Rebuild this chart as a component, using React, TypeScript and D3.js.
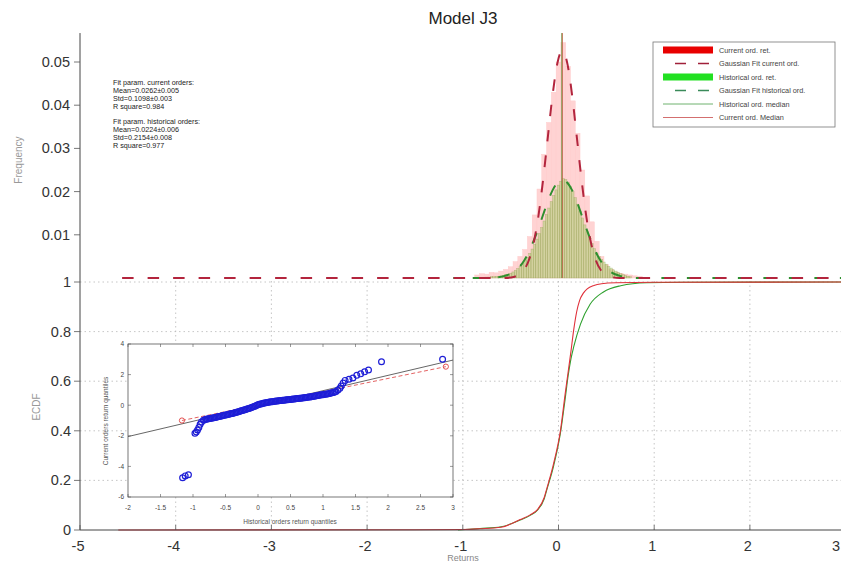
import React from 'react';
import * as d3 from 'd3';

const W = 841;
const H = 564;
const FONT = 'Liberation Sans, Arial, Helvetica, sans-serif';

// ---- axis ticks ----
const xTicks = [-5, -4, -3, -2, -1, 0, 1, 2, 3];
const freqTicks = [0.01, 0.02, 0.03, 0.04, 0.05];
const ecdfTicks = [0, 0.2, 0.4, 0.6, 0.8, 1];
const ecdfTickLabels = ['0', '0.2', '0.4', '0.6', '0.8', '1'];
const insetXTicks = [-2, -1.5, -1, -0.5, 0, 0.5, 1, 1.5, 2, 2.5, 3];
const insetYTicks = [-6, -4, -2, 0, 2, 4];

// ---- histogram: current orders (bin width 0.05) ----
const curBinCenters = [-0.85, -0.8, -0.75, -0.7, -0.65, -0.6, -0.55, -0.5, -0.45, -0.4, -0.35, -0.3, -0.25, -0.2, -0.15, -0.1, -0.05, 0, 0.05, 0.1, 0.15, 0.2, 0.25, 0.3, 0.35, 0.4, 0.45, 0.5, 0.55, 0.6, 0.65, 0.7, 0.75, 0.8, 0.85];
const curBinFreq = [0.0007, 0.001, 0.0009, 0.0013, 0.0012, 0.0016, 0.002, 0.0026, 0.0038, 0.005, 0.0066, 0.0096, 0.0146, 0.0206, 0.0286, 0.036, 0.043, 0.05, 0.0545, 0.049, 0.041, 0.0335, 0.025, 0.019, 0.013, 0.0085, 0.005, 0.0031, 0.002, 0.0014, 0.0011, 0.0009, 0.0007, 0.0005, 0.0004];
const curBinWidth = 0.05;

// ---- histogram: historical orders (bin width 0.025) ----
const histBinCenters = [-0.75, -0.725, -0.7, -0.675, -0.65, -0.625, -0.6, -0.575, -0.55, -0.525, -0.5, -0.475, -0.45, -0.425, -0.4, -0.375, -0.35, -0.325, -0.3, -0.275, -0.25, -0.225, -0.2, -0.175, -0.15, -0.125, -0.1, -0.075, -0.05, -0.025, 0, 0.025, 0.05, 0.075, 0.1, 0.125, 0.15, 0.175, 0.2, 0.225, 0.25, 0.275, 0.3, 0.325, 0.35, 0.375, 0.4, 0.425, 0.45, 0.475, 0.5, 0.525, 0.55, 0.575, 0.6, 0.625, 0.65, 0.675, 0.7, 0.725, 0.75];
const histBinFreq = [0.0002, 0.0002, 0.0003, 0.0003, 0.0004, 0.0004, 0.0005, 0.0006, 0.0008, 0.0009, 0.0011, 0.0014, 0.0018, 0.0022, 0.0027, 0.0033, 0.004, 0.0048, 0.0057, 0.0067, 0.0078, 0.009, 0.0103, 0.0117, 0.0132, 0.0147, 0.0162, 0.0177, 0.0191, 0.0204, 0.0215, 0.0224, 0.023, 0.0228, 0.0222, 0.0212, 0.02, 0.0186, 0.0171, 0.0155, 0.0139, 0.0123, 0.0107, 0.0093, 0.008, 0.0068, 0.0058, 0.005, 0.0043, 0.0037, 0.0032, 0.0027, 0.0023, 0.0019, 0.0016, 0.0013, 0.001, 0.0008, 0.0006, 0.0004, 0.0003];
const histBinWidth = 0.025;

// ---- gaussian fit curves ----
const gaussCurX = [-4.56, -0.56, -0.46, -0.41, -0.36, -0.31, -0.26, -0.21, -0.16, -0.11, -0.06, -0.01, 0.04, 0.09, 0.14, 0.19, 0.24, 0.29, 0.34, 0.39, 0.44, 0.49, 0.54, 0.64, 3.6];
const gaussCurY = [0, 0, 0.0003, 0.0008, 0.0019, 0.0041, 0.0081, 0.0143, 0.0229, 0.0329, 0.0427, 0.0499, 0.0526, 0.0499, 0.0427, 0.0329, 0.0229, 0.0143, 0.0081, 0.0041, 0.0019, 0.0008, 0.0003, 0, 0];
const gaussHisX = [-1.1, -0.76, -0.66, -0.56, -0.46, -0.36, -0.31, -0.26, -0.21, -0.16, -0.11, -0.06, -0.01, 0.04, 0.09, 0.14, 0.19, 0.24, 0.29, 0.34, 0.39, 0.44, 0.54, 0.64, 0.74, 0.84, 3.6];
const gaussHisY = [0, 0, 0.0001, 0.0005, 0.0015, 0.004, 0.006, 0.0086, 0.0115, 0.0147, 0.0178, 0.0204, 0.0221, 0.0227, 0.0221, 0.0204, 0.0178, 0.0147, 0.0115, 0.0086, 0.006, 0.004, 0.0015, 0.0005, 0.0001, 0, 0];

// ---- medians ----
const histMedian = 0.035;
const curMedian = 0.04;

// ---- ECDF ----
const ecdfCurX = [-4.6, -1.5, -1.0, -0.82, -0.6, -0.4, -0.3, -0.22, -0.15, -0.12, -0.05, 0.02, 0.07, 0.13, 0.16, 0.19, 0.22, 0.26, 0.3, 0.37, 0.45, 0.6, 1.0, 3.6];
const ecdfCurY = [0, 0.001, 0.002, 0.005, 0.011, 0.042, 0.06, 0.082, 0.13, 0.17, 0.27, 0.4, 0.55, 0.72, 0.81, 0.88, 0.925, 0.955, 0.972, 0.986, 0.993, 0.997, 0.999, 1];
const ecdfHisX = [-1.05, -0.82, -0.6, -0.4, -0.3, -0.22, -0.15, -0.12, -0.05, 0.02, 0.07, 0.1, 0.13, 0.16, 0.23, 0.33, 0.47, 0.65, 0.92, 1.3, 3.6];
const ecdfHisY = [0, 0.006, 0.013, 0.04, 0.058, 0.08, 0.125, 0.165, 0.26, 0.39, 0.53, 0.62, 0.69, 0.74, 0.83, 0.91, 0.96, 0.985, 0.997, 0.999, 1];

// ---- QQ plot (inset): historical quantiles vs current quantiles ----
const qqHistQ = [
  -1.16, -1.12, -1.07, -0.97, -0.95, -0.93, -0.91, -0.89, -0.87, -0.84,
  -0.82, -0.8, -0.78, -0.76, -0.74, -0.72, -0.7, -0.68, -0.66, -0.64, -0.62, -0.6, -0.58, -0.56, -0.54, -0.52, -0.5, -0.48, -0.46, -0.44, -0.42, -0.4,
  -0.38, -0.36, -0.34, -0.32, -0.3, -0.28, -0.26, -0.24, -0.22, -0.2, -0.18, -0.16, -0.14, -0.12, -0.1, -0.08, -0.06, -0.04, -0.02, 0,
  0.02, 0.04, 0.06, 0.08, 0.1, 0.12, 0.14, 0.16, 0.18, 0.2, 0.22, 0.24, 0.26, 0.28, 0.3, 0.32, 0.34, 0.36, 0.38, 0.4,
  0.42, 0.44, 0.46, 0.48, 0.5, 0.52, 0.54, 0.56, 0.58, 0.6, 0.62, 0.64, 0.66, 0.68, 0.7, 0.72, 0.74, 0.76, 0.78, 0.8,
  0.82, 0.84, 0.86, 0.88, 0.9, 0.92, 0.94, 0.96, 0.98, 1.0, 1.02, 1.04, 1.06, 1.08, 1.1, 1.12, 1.14, 1.16, 1.18,
  1.2, 1.23, 1.26, 1.28, 1.31, 1.34, 1.4, 1.46, 1.52, 1.58, 1.64, 1.7, 1.9, 2.84,
];
const qqCurQ = [
  -4.74, -4.62, -4.55, -1.84, -1.75, -1.62, -1.45, -1.25, -1.1, -0.98,
  -0.95, -0.92, -0.9, -0.88, -0.87, -0.85, -0.83, -0.82, -0.8, -0.78, -0.76, -0.74, -0.72, -0.7, -0.68, -0.66, -0.64, -0.62, -0.6, -0.58, -0.56, -0.54,
  -0.52, -0.5, -0.47, -0.45, -0.42, -0.4, -0.37, -0.35, -0.32, -0.3, -0.27, -0.24, -0.21, -0.18, -0.15, -0.12, -0.08, -0.05, -0.01, 0.03,
  0.06, 0.08, 0.1, 0.12, 0.14, 0.16, 0.18, 0.19, 0.21, 0.22, 0.23, 0.24, 0.26, 0.27, 0.28, 0.29, 0.3, 0.31, 0.32, 0.33,
  0.34, 0.35, 0.36, 0.37, 0.38, 0.39, 0.4, 0.41, 0.42, 0.43, 0.44, 0.45, 0.46, 0.47, 0.48, 0.49, 0.51, 0.52, 0.53, 0.54,
  0.56, 0.57, 0.59, 0.6, 0.62, 0.63, 0.65, 0.66, 0.68, 0.69, 0.71, 0.72, 0.74, 0.75, 0.77, 0.79, 0.81, 0.83, 0.86,
  0.9, 1.0, 1.1, 1.25, 1.45, 1.62, 1.7, 1.78, 1.95, 2.05, 2.18, 2.3, 2.84, 3.0,
];
const qqRedX = [-1.17, 2.89];
const qqRedY = [-1.0, 2.52];
const qqRefX = [-2, 3];
const qqRefY = [-2.05, 2.95];

// ---- text ----
const fitText = [
  'Fit param. current orders:',
  'Mean=0.0262±0.005',
  'Std=0.1098±0.003',
  'R square=0.984',
  '',
  'Fit param. historical orders:',
  'Mean=0.0224±0.006',
  'Std=0.2154±0.008',
  'R square=0.977',
];
const legendLabels = [
  'Current ord. ret.',
  'Gaussian Fit current ord.',
  'Historical ord. ret.',
  'Gaussian Fit historical ord.',
  'Historical ord. median',
  'Current ord. Median',
];

export default function App() {
  const x = d3.scaleLinear().domain([-5, 3]).range([80, 845.6]);
  const yTop = d3.scaleLinear().domain([0, 0.05]).range([278, 62]);
  const yBot = d3.scaleLinear().domain([0, 1]).range([530, 282]);
  const ix = d3.scaleLinear().domain([-2, 3]).range([128, 453]);
  const iy = d3.scaleLinear().domain([-6, 4]).range([497, 344]);

  const topAxisTop = yTop(0.0567);
  const botAxisTop = yBot(1.016);

  const lineFrom = (xs: number[], ys: number[], ys2: (v: number) => number) =>
    d3
      .line<number>()
      .x((d) => x(d))
      .y((d, i) => ys2(ys[i]))
      .curve(d3.curveMonotoneX)(xs) || '';

  const gaussCurPath = lineFrom(gaussCurX, gaussCurY, yTop);
  const gaussHisPath = lineFrom(gaussHisX, gaussHisY, yTop);
  const ecdfCurPath = lineFrom(ecdfCurX, ecdfCurY, yBot);
  const ecdfHisPath = lineFrom(ecdfHisX, ecdfHisY, yBot);

  const legendX0 = 663;
  const legendX1 = 713;
  const legendY = [50, 63.5, 77, 90.5, 104, 117.5];

  const gridColor = '#b8b8b8';

  return (
    <div style={{ position: 'absolute', left: 0, top: 0 }}>
      <svg width={W} height={H} style={{ display: 'block', background: '#fff' }} fontFamily={FONT}>
        <defs>
          <clipPath id="plotClip">
            <rect x={80} y={0} width={W - 80} height={H} />
          </clipPath>
          <clipPath id="insetClip">
            <rect x={ix(-2)} y={iy(4)} width={ix(3) - ix(-2)} height={iy(-6) - iy(4)} />
          </clipPath>
        </defs>

        {/* title */}
        <text x={463} y={24} textAnchor="middle" fontSize={17} fill="#222">
          Model J3
        </text>

        {/* ===== bottom panel grid ===== */}
        <g stroke={gridColor} strokeWidth={0.8} strokeDasharray="1.5,3">
          {xTicks.filter((t) => t > -5).map((t) => (
            <line key={'gx' + t} x1={x(t)} x2={x(t)} y1={yBot(0)} y2={botAxisTop} />
          ))}
          {ecdfTicks.filter((t) => t > 0).map((t) => (
            <line key={'gy' + t} x1={x(-5)} x2={W} y1={yBot(t)} y2={yBot(t)} />
          ))}
        </g>

        {/* ===== top panel: histograms ===== */}
        <g clipPath="url(#plotClip)">
          {curBinCenters.map((c, i) => (
            <rect
              key={'cb' + i}
              x={x(c - curBinWidth / 2)}
              width={x(c + curBinWidth / 2) - x(c - curBinWidth / 2)}
              y={yTop(curBinFreq[i])}
              height={yTop(0) - yTop(curBinFreq[i])}
              fill="#ffd3d3"
              stroke="#ffc6c6"
              strokeWidth={0.4}
            />
          ))}
          {histBinCenters.map((c, i) => (
            <rect
              key={'hb' + i}
              x={x(c - histBinWidth / 2)}
              width={x(c + histBinWidth / 2) - x(c - histBinWidth / 2)}
              y={yTop(histBinFreq[i])}
              height={yTop(0) - yTop(histBinFreq[i])}
              fill="rgba(150,210,90,0.42)"
              stroke="rgba(140,150,70,0.5)"
              strokeWidth={0.5}
            />
          ))}

          {/* medians */}
          <line x1={x(histMedian)} x2={x(histMedian)} y1={yTop(0)} y2={topAxisTop} stroke="#5fa040" strokeWidth={1} />
          <line x1={x(curMedian)} x2={x(curMedian)} y1={yTop(0)} y2={topAxisTop} stroke="#c8604a" strokeWidth={1} opacity={0.9} />

          {/* gaussian fits */}
          <path d={gaussHisPath} fill="none" stroke="#2f8f2f" strokeWidth={2} strokeDasharray="11.5,14" strokeDashoffset={6} />
          <path d={gaussCurPath} fill="none" stroke="#b3253d" strokeWidth={2} strokeDasharray="11.5,14" />

          {/* ECDF */}
          <path d={ecdfHisPath} fill="none" stroke="#2ea02e" strokeWidth={1.1} />
          <path d={ecdfCurPath} fill="none" stroke="#e0303a" strokeWidth={1.1} />
        </g>

        {/* ===== axes ===== */}
        <line x1={x(-5)} x2={x(-5)} y1={topAxisTop} y2={yBot(0)} stroke="#444" strokeWidth={1} />
        <line x1={x(-5)} x2={W} y1={yBot(0)} y2={yBot(0)} stroke="#444" strokeWidth={1} />

        {/* top y ticks */}
        {freqTicks.map((t) => (
          <g key={'ft' + t}>
            <line x1={x(-5) - 6} x2={x(-5)} y1={yTop(t)} y2={yTop(t)} stroke="#555" strokeWidth={0.8} />
            <text x={70} y={yTop(t) + 5} textAnchor="end" fontSize={14.5} fill="#333">
              {t.toFixed(2)}
            </text>
          </g>
        ))}
        {/* bottom y ticks */}
        {ecdfTicks.map((t, i) => (
          <g key={'et' + t}>
            <line x1={x(-5) - 6} x2={x(-5)} y1={yBot(t)} y2={yBot(t)} stroke="#555" strokeWidth={0.8} />
            <text x={71} y={yBot(t) + 5} textAnchor="end" fontSize={14.5} fill="#333">
              {ecdfTickLabels[i]}
            </text>
          </g>
        ))}
        {/* x ticks */}
        {xTicks.map((t) => (
          <g key={'xt' + t}>
            <line x1={x(t)} x2={x(t)} y1={yBot(0)} y2={yBot(0) - 5} stroke="#555" strokeWidth={0.8} />
            <text
              x={t === 3 ? W - 1 : x(t) - 2}
              y={551}
              textAnchor={t === 3 ? 'end' : 'middle'}
              fontSize={14.5}
              fill="#333"
            >
              {t}
            </text>
          </g>
        ))}

        {/* axis labels */}
        <text transform={`translate(22,160) rotate(-90)`} textAnchor="middle" fontSize={10} fill="#999">
          Frequency
        </text>
        <text transform={`translate(40,407) rotate(-90)`} textAnchor="middle" fontSize={10} fill="#999">
          ECDF
        </text>
        <text x={463} y={561} textAnchor="middle" fontSize={9} fill="#888">
          Returns
        </text>

        {/* fit parameter text */}
        {fitText.map((s, i) => (
          <text key={'fp' + i} x={113} y={85 + i * 7.85} fontSize={7.2} fill="#222">
            {s}
          </text>
        ))}

        {/* legend */}
        <rect x={653} y={42} width={182} height={85} fill="#fff" stroke="#777" strokeWidth={0.8} />
        <line x1={legendX0} x2={legendX1} y1={legendY[0]} y2={legendY[0]} stroke="#e80000" strokeWidth={7} />
        <line x1={legendX0} x2={legendX1} y1={legendY[1]} y2={legendY[1]} stroke="#a0203a" strokeWidth={1.5} strokeDasharray="11,12" strokeDashoffset={-12} />
        <line x1={legendX0} x2={legendX1} y1={legendY[2]} y2={legendY[2]} stroke="#22e022" strokeWidth={7} />
        <line x1={legendX0} x2={legendX1} y1={legendY[3]} y2={legendY[3]} stroke="#3a8a5a" strokeWidth={1.5} strokeDasharray="11,12" strokeDashoffset={-12} />
        <line x1={legendX0} x2={legendX1} y1={legendY[4]} y2={legendY[4]} stroke="#4aa04a" strokeWidth={0.8} />
        <line x1={legendX0} x2={legendX1} y1={legendY[5]} y2={legendY[5]} stroke="#c84a4a" strokeWidth={0.8} />
        {legendLabels.map((s, i) => (
          <text key={'lg' + i} x={719} y={legendY[i] + 2.5} fontSize={7.3} fill="#444">
            {s}
          </text>
        ))}

        {/* ===== inset QQ plot ===== */}
        <rect x={ix(-2)} y={iy(4)} width={ix(3) - ix(-2)} height={iy(-6) - iy(4)} fill="#fff" stroke="#555" strokeWidth={0.8} />
        <g clipPath="url(#insetClip)">
          <path
            d={d3.line<number>().x((d) => ix(d)).y((d, i) => iy(qqRefY[i]))(qqRefX) || ''}
            stroke="#555"
            strokeWidth={0.9}
            fill="none"
          />
          <path
            d={d3.line<number>().x((d) => ix(d)).y((d, i) => iy(qqRedY[i]))(qqRedX) || ''}
            stroke="#e05050"
            strokeWidth={0.9}
            strokeDasharray="4,2.5"
            fill="none"
          />
          {qqHistQ.map((q, i) => (
            <circle key={'qq' + i} cx={ix(q)} cy={iy(qqCurQ[i])} r={2.9} fill="none" stroke="#1e1ed6" strokeWidth={1.2} />
          ))}
          {qqRedX.map((q, i) => (
            <circle key={'qr' + i} cx={ix(q)} cy={iy(qqRedY[i])} r={2.6} fill="none" stroke="#e04040" strokeWidth={0.9} />
          ))}
        </g>
        {insetXTicks.map((t) => (
          <g key={'ixt' + t}>
            <line x1={ix(t)} x2={ix(t)} y1={iy(-6)} y2={iy(-6) - 3} stroke="#555" strokeWidth={0.6} />
            <line x1={ix(t)} x2={ix(t)} y1={iy(4)} y2={iy(4) + 3} stroke="#555" strokeWidth={0.6} />
            <text x={ix(t)} y={510} textAnchor="middle" fontSize={6.5} fill="#444">
              {t}
            </text>
          </g>
        ))}
        {insetYTicks.map((t) => (
          <g key={'iyt' + t}>
            <line x1={ix(-2)} x2={ix(-2) + 3} y1={iy(t)} y2={iy(t)} stroke="#555" strokeWidth={0.6} />
            <line x1={ix(3)} x2={ix(3) - 3} y1={iy(t)} y2={iy(t)} stroke="#555" strokeWidth={0.6} />
            <text x={124} y={iy(t) + 2.3} textAnchor="end" fontSize={6.5} fill="#444">
              {t}
            </text>
          </g>
        ))}
        <text x={290} y={524} textAnchor="middle" fontSize={6.5} fill="#555">
          Historical orders return quantiles
        </text>
        <text transform={`translate(108,421) rotate(-90)`} textAnchor="middle" fontSize={6.5} fill="#555">
          Current orders return quantiles
        </text>
      </svg>
    </div>
  );
}
